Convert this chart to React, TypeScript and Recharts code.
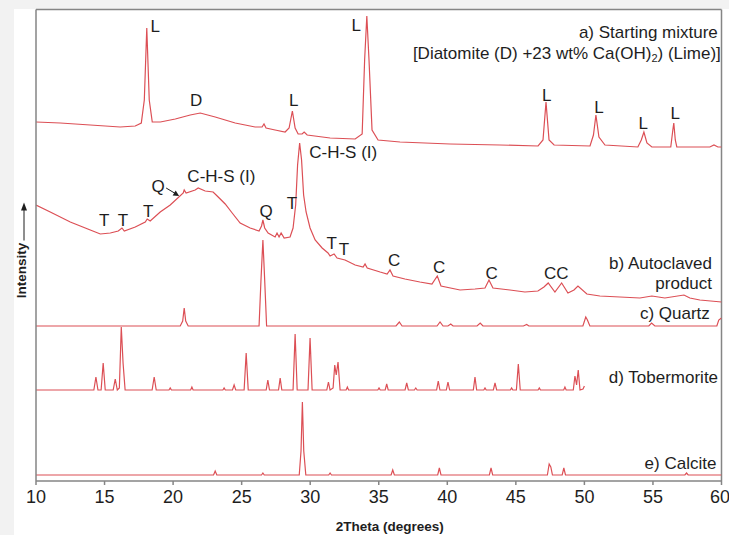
import React from 'react';
import { LineChart, Line, XAxis, YAxis, ReferenceDot, ReferenceLine } from 'recharts';

// 2Theta (degrees), intensity (arbitrary units, traces offset vertically)
const xTicks = [10, 15, 20, 25, 30, 35, 40, 45, 50, 55, 60];

const mixture: number[][] = [
  [10, 359], [11.77, 358], [13.96, 356], [16.14, 354], [17.24, 355], [17.68, 358], [17.9, 381],
  [18.08, 453], [18.26, 381], [18.48, 359], [19.07, 359], [20.16, 362], [21.25, 366], [21.98, 368],
  [23.07, 364], [24.53, 358], [25.98, 354], [26.49, 354], [26.63, 357], [26.78, 353], [27.44, 351],
  [28.17, 349], [28.46, 353], [28.7, 370], [28.9, 353], [29.12, 347], [29.41, 347], [29.56, 349],
  [29.78, 346], [31.45, 343], [33.28, 342], [33.79, 347], [33.97, 421], [34.13, 465], [34.29, 421],
  [34.51, 351], [34.95, 341], [36.55, 339], [40.2, 337], [43.84, 336], [46.62, 335], [46.98, 341],
  [47.2, 379], [47.42, 341], [47.79, 336], [50.41, 335], [50.66, 346], [50.84, 366], [51.06, 344],
  [51.5, 336], [53.9, 334], [54.15, 341], [54.34, 349], [54.56, 338], [54.92, 334], [56.3, 334],
  [56.45, 351], [56.52, 358], [56.63, 341], [56.74, 334], [59.15, 334], [59.45, 336], [59.74, 334],
  [60, 334],
];

const autoclaved: number[][] = [
  [10, 276], [11.04, 269], [12.5, 259], [13.96, 251], [14.69, 247], [15.42, 248], [16.0, 250],
  [16.27, 253], [16.44, 250], [17.24, 254], [17.97, 259], [18.11, 262], [18.33, 260], [19.06, 269],
  [19.79, 276], [20.74, 288], [20.81, 291], [20.95, 288], [21.61, 291], [21.83, 293], [22.34, 290],
  [22.92, 289], [23.29, 284], [23.8, 277], [24.31, 268], [24.89, 258], [25.62, 253], [26.27, 250],
  [26.45, 255], [26.55, 261], [26.68, 253], [26.93, 248], [27.44, 244], [27.58, 248], [27.73, 244],
  [27.88, 248], [28.1, 243], [28.53, 244], [28.75, 253], [28.94, 276], [29.08, 316], [29.23, 338],
  [29.37, 321], [29.52, 286], [29.7, 269], [29.99, 253], [30.36, 241], [30.87, 233], [31.3, 228],
  [31.45, 225], [31.74, 227], [31.96, 223], [32.54, 221], [33.28, 216], [33.86, 214], [34.0, 217],
  [34.16, 213], [35.1, 209], [35.61, 207], [35.82, 211], [36.04, 205], [36.91, 202], [38.0, 199],
  [38.88, 197], [39.27, 205], [39.54, 195], [40.93, 191], [42.02, 192], [42.75, 193], [43.04, 201],
  [43.33, 193], [44.57, 191], [45.66, 189], [46.61, 190], [47.05, 194], [47.36, 198], [47.85, 189],
  [48.34, 198], [48.8, 188], [49.24, 191], [49.53, 195], [50.18, 187], [51.13, 185], [52.59, 184],
  [54.05, 183], [54.92, 185], [55.87, 183], [57.26, 186], [57.69, 183], [58.42, 181], [60, 179],
];

const quartz: number[][] = [
  [10, 155], [20.52, 155], [20.7, 160], [20.81, 173], [20.92, 160], [21.1, 155], [26.27, 155],
  [26.41, 201], [26.55, 241], [26.68, 201], [26.82, 155], [36.26, 155], [36.5, 159], [36.7, 155],
  [39.25, 155], [39.47, 159], [39.69, 155], [40.05, 155], [40.25, 157], [40.42, 155], [42.17, 155],
  [42.4, 158], [42.6, 155], [45.55, 155], [45.79, 156.5], [45.95, 155], [49.89, 155], [50.1, 164],
  [50.22, 161], [50.4, 155], [54.7, 155], [54.9, 158], [55.14, 155], [59.66, 155], [59.8, 161],
  [60, 163],
];

const tobermorite: number[][] = [
  [10, 91], [14.22, 91], [14.37, 104], [14.52, 91], [14.75, 91], [14.9, 118], [15.05, 91],
  [15.63, 91], [15.78, 102], [15.93, 91], [16.08, 93], [16.22, 154], [16.35, 118], [16.5, 91],
  [18.47, 91], [18.62, 104], [18.77, 91], [19.7, 91], [19.79, 93], [19.88, 91], [21.28, 91],
  [21.37, 94], [21.46, 91], [23.63, 91], [23.72, 93], [23.81, 91], [24.33, 91], [24.45, 96],
  [24.57, 91], [25.18, 91], [25.33, 128], [25.48, 91], [26.79, 91], [26.91, 101], [27.03, 91],
  [27.69, 91], [27.81, 103], [27.93, 91], [28.75, 91], [28.9, 147], [29.05, 91], [29.84, 91],
  [29.99, 143], [30.14, 91], [31.21, 91], [31.33, 99], [31.45, 91], [31.67, 93], [31.79, 116],
  [31.9, 106], [32.03, 119], [32.18, 91], [32.62, 91], [32.71, 94], [32.8, 91], [34.93, 91],
  [35.02, 93], [35.11, 91], [35.47, 91], [35.58, 97], [35.69, 91], [36.92, 91], [37.04, 98],
  [37.16, 91], [37.6, 91], [37.7, 93], [37.8, 91], [39.22, 91], [39.34, 100], [39.46, 91],
  [39.93, 91], [40.05, 99], [40.17, 91], [41.9, 91], [42.02, 104], [42.14, 91], [42.66, 91],
  [42.75, 93], [42.84, 91], [43.36, 91], [43.48, 98], [43.6, 91], [44.6, 91], [44.69, 93],
  [44.78, 91], [45.04, 91], [45.18, 117], [45.32, 91], [46.62, 91], [46.71, 93], [46.8, 91],
  [48.49, 91], [48.58, 94], [48.67, 91], [49.19, 91], [49.31, 105], [49.43, 96], [49.55, 111],
  [49.68, 91], [49.9, 92], [50, 95],
];

const calcite: number[][] = [
  [10, 6], [22.95, 6], [23.07, 10], [23.19, 6], [26.45, 6], [26.55, 8], [26.65, 6], [29.2, 6],
  [29.33, 30], [29.43, 79], [29.53, 30], [29.68, 6], [31.35, 6], [31.45, 8], [31.55, 6], [35.9, 6],
  [36.02, 11], [36.14, 6], [39.3, 6], [39.42, 13], [39.54, 6], [43.07, 6], [43.19, 13], [43.31, 6],
  [47.3, 6], [47.43, 17], [47.55, 14], [47.67, 6], [48.38, 6], [48.5, 13], [48.62, 6], [57.33, 6],
  [57.45, 8], [57.57, 6], [60, 6],
];

// annotation labels: [2Theta, intensity, text, anchor]
const peakLabels: [number, number, string, string][] = [
  [18.69, 455, 'L', 'middle'], [21.68, 381, 'D', 'middle'], [28.8, 381, 'L', 'middle'],
  [33.35, 456, 'L', 'middle'], [47.25, 386, 'L', 'middle'], [51.06, 374, 'L', 'middle'],
  [54.29, 358, 'L', 'middle'], [56.63, 368, 'L', 'middle'],
  [14.98, 261, 'T', 'middle'], [16.34, 261, 'T', 'middle'], [18.19, 270, 'T', 'middle'],
  [18.91, 295, 'Q', 'middle'], [23.52, 305, 'C-H-S (I)', 'middle'], [26.78, 270, 'Q', 'middle'],
  [28.66, 278, 'T', 'middle'], [32.41, 329, 'C-H-S (I)', 'middle'], [31.57, 238, 'T', 'middle'],
  [32.47, 232, 'T', 'middle'], [36.12, 221, 'C', 'middle'], [39.4, 214, 'C', 'middle'],
  [43.24, 208, 'C', 'middle'], [47.95, 208, 'CC', 'middle'],
  [59.73, 449, 'a) Starting mixture', 'end'],
  [59.31, 218, 'b) Autoclaved', 'end'], [59.31, 198, 'product', 'end'],
  [59.15, 168, 'c) Quartz', 'end'], [59.75, 104, 'd) Tobermorite', 'end'],
  [59.63, 18, 'e) Calcite', 'end'],
];
const limeNote: [number, number] = [59.95, 428];
const qArrow: [number, number] = [18.91, 295];

const toRows = (a: number[][]) => a.map(([x, y]) => ({ x, y }));

const FONT = '"Liberation Sans", Arial, sans-serif';
const RED = '#dc4f55';
const GREY = '#858585';
const TXT = '#1e1e1e';

const series = [
  { name: 'mixture', rows: toRows(mixture) },
  { name: 'autoclaved', rows: toRows(autoclaved) },
  { name: 'quartz', rows: toRows(quartz) },
  { name: 'tobermorite', rows: toRows(tobermorite) },
  { name: 'calcite', rows: toRows(calcite) },
];

const textLabel = (text: string, anchor: string) => (props: any) => {
  const vb = props.viewBox || {};
  return (
    <text x={vb.x} y={vb.y} textAnchor={anchor as any} dominantBaseline="central"
      fontFamily={FONT} fontSize={17} fill={TXT}>{text}</text>
  );
};

const limeLabel = (props: any) => {
  const vb = props.viewBox || {};
  return (
    <text x={vb.x} y={vb.y} textAnchor="end" dominantBaseline="central" fontFamily={FONT} fontSize={17} fill={TXT}>
      <tspan>[Diatomite (D) +23 wt% Ca(OH)</tspan>
      <tspan fontSize={11} dy={5}>2</tspan>
      <tspan dy={-5}>) (Lime)]</tspan>
    </text>
  );
};

const arrowLabel = (props: any) => {
  const vb = props.viewBox || {};
  const x0 = vb.x + 8;
  const y0 = vb.y + 2;
  return (
    <g>
      <line x1={x0} y1={y0} x2={x0 + 10} y2={y0 + 6} stroke={TXT} strokeWidth={1} />
      <path d={`M ${x0 + 13} ${y0 + 8} L ${x0 + 6.5} ${y0 + 7.5} L ${x0 + 9.5} ${y0 + 2.5} Z`} fill={TXT} />
    </g>
  );
};

const xLabel = (props: any) => {
  const vb = props.viewBox || {};
  return (
    <text x={vb.x + vb.width / 2 + 11} y={vb.y + 50} textAnchor="middle" fontFamily={FONT}
      fontSize={13.5} fontWeight="bold" fill={TXT}>2Theta (degrees)</text>
  );
};

const yLabel = (props: any) => {
  const vb = props.viewBox || {};
  const right = vb.x + vb.width;
  const cx = right - 14.5;
  const cy = vb.y + 261;
  const ax = cx + 2.5;
  return (
    <g>
      <text x={cx} y={cy} textAnchor="middle" dominantBaseline="central" fontFamily={FONT}
        fontSize={13.5} fontWeight="bold" fill={TXT} transform={`rotate(-90, ${cx}, ${cy})`}>Intensity</text>
      <line x1={ax} y1={vb.y + 231} x2={ax} y2={vb.y + 200} stroke={TXT} strokeWidth={1} />
      <path d={`M ${ax} ${vb.y + 193} L ${ax - 3} ${vb.y + 201} L ${ax + 3} ${vb.y + 201} Z`} fill={TXT} />
    </g>
  );
};

export default function App() {
  return (
    <div style={{ position: 'absolute', left: 0, top: 0, width: 729, height: 535, background: '#f2f2f2' }}>
      <div style={{ position: 'absolute', left: 14, top: 9, width: 715, height: 526, background: '#ffffff' }} />
      <div style={{ position: 'absolute', left: 0, top: 0 }}>
        <LineChart width={729} height={535} margin={{ top: 9.5, right: 7.5, bottom: 24, left: 0 }}>
          <XAxis type="number" dataKey="x" domain={[10, 60]} ticks={xTicks} allowDataOverflow
            stroke={GREY} strokeWidth={1.5} tickSize={4} tickMargin={5} height={30}
            tick={{ fontSize: 18, fill: TXT, fontFamily: FONT }} label={xLabel} />
          <YAxis type="number" domain={[0, 471.5]} allowDataOverflow width={36} tick={false} tickLine={false}
            stroke={GREY} strokeWidth={1.5} label={yLabel} />
          <ReferenceLine y={471.5} stroke={GREY} strokeWidth={1.5} ifOverflow="extendDomain" />
          <ReferenceLine x={60} stroke={GREY} strokeWidth={1.5} ifOverflow="extendDomain" />
          {series.map((s) => (
            <Line key={s.name} data={s.rows} dataKey="y" type="linear" stroke={RED} strokeWidth={1.2}
              dot={false} activeDot={false} isAnimationActive={false} />
          ))}
          {peakLabels.map(([x, y, t, a], i) => (
            <ReferenceDot key={'l' + i} x={x} y={y} r={0} fill="none" stroke="none" label={textLabel(t, a)} />
          ))}
          <ReferenceDot x={limeNote[0]} y={limeNote[1]} r={0} fill="none" stroke="none" label={limeLabel} />
          <ReferenceDot x={qArrow[0]} y={qArrow[1]} r={0} fill="none" stroke="none" label={arrowLabel} />
        </LineChart>
      </div>
    </div>
  );
}
